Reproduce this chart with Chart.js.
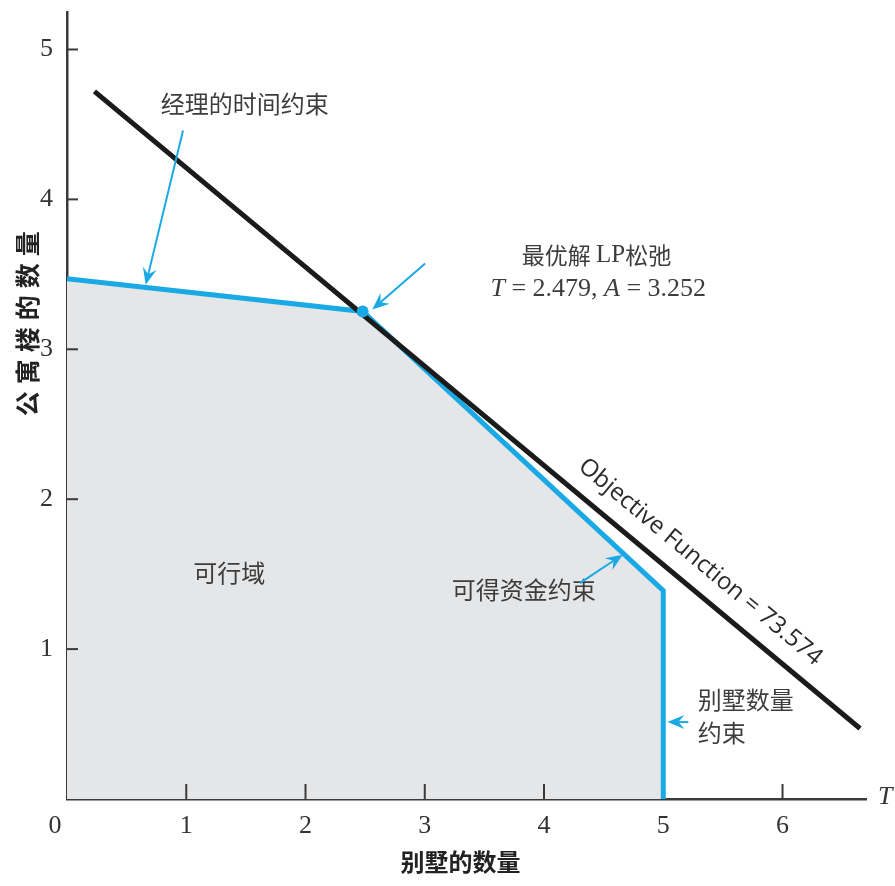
<!DOCTYPE html>
<html><head><meta charset="utf-8">
<script src="https://cdn.jsdelivr.net/npm/chart.js@4/dist/chart.umd.min.js"></script>
<style>html,body{margin:0;padding:0;background:#fff;}#wrap{width:895px;height:886px;}</style>
</head><body><div id="wrap"><canvas id="c" width="895" height="886"></canvas></div>
<script>
// ---- data ----
const regionT = [0, 2.479, 5, 5];          // feasible region upper boundary (villas T)
const regionA = [3.47, 3.252, 1.39, 0];    // apartments A
const objectiveT = [0.23, 6.65];
const objectiveA = [4.72, 0.47];
const optimumT = [2.479];
const optimumA = [3.252];
const xTickValues = [0, 1, 2, 3, 4, 5, 6];
const yTickValues = [1, 2, 3, 4, 5];
const xTickMarks = [1, 2, 3, 4, 6];
const yTickMarks = [1, 2, 3, 4, 5];
const xTitle = '别墅的数量';
const yTitle = '公寓楼的数量';

const BLUE = '#19a9e5';
const INK = '#3a3a3a';
const CJK = '"Noto Sans CJK SC"';
const SERIF = '"Liberation Serif"';

// annotation layout (data-space anchors)
const notes = [
  {text: '经理的时间约束', t: 1.49, a: 4.64},
  {text: '可行域', t: 1.36, a: 1.51},
  {text: '可得资金约束', t: 3.83, a: 1.393},
];
const arrows = [
  {from: [0.973, 4.46], to: [0.66, 3.43]},
  {from: [3.003, 3.573], to: [2.56, 3.265]},
  {from: [4.30, 1.44], to: [4.66, 1.63]},
  {from: [5.21, 0.513], to: [5.035, 0.513]},
];

function arrow(ctx, x1, y1, x2, y2) {
  const a = Math.atan2(y2 - y1, x2 - x1);
  const L = 17, W = 7, N = 6;
  const c = Math.cos(a), s = Math.sin(a);
  ctx.beginPath(); ctx.moveTo(x1, y1); ctx.lineTo(x2 - c * (L - N), y2 - s * (L - N)); ctx.stroke();
  ctx.beginPath();
  ctx.moveTo(x2, y2);
  ctx.lineTo(x2 - L * c + W * s, y2 - L * s - W * c);
  ctx.lineTo(x2 - (L - N) * c, y2 - (L - N) * s);
  ctx.lineTo(x2 - L * c - W * s, y2 - L * s + W * c);
  ctx.closePath(); ctx.fill();
}

function drawRuns(ctx, runs, cx, cy) {
  let total = 0;
  runs.forEach(r => { ctx.font = r.font; r.w = ctx.measureText(r.s).width; total += r.w; });
  let x = cx - total / 2;
  runs.forEach(r => { ctx.font = r.font; ctx.fillText(r.s, x, cy); x += r.w; });
}

const annot = {
  id: 'annot',
  afterDraw(chart) {
    const {ctx, scales: {x, y}, chartArea: ca} = chart;
    const X = v => x.getPixelForValue(v), Y = v => y.getPixelForValue(v);
    ctx.save();
    // inward tick marks
    ctx.strokeStyle = INK; ctx.lineWidth = 2;
    xTickMarks.forEach(v => { ctx.beginPath(); ctx.moveTo(X(v), ca.bottom); ctx.lineTo(X(v), ca.bottom - 15); ctx.stroke(); });
    yTickMarks.forEach(v => { ctx.beginPath(); ctx.moveTo(ca.left, Y(v)); ctx.lineTo(ca.left + 11, Y(v)); ctx.stroke(); });

    // origin label and axis letter
    ctx.fillStyle = '#333';
    ctx.textBaseline = 'middle'; ctx.textAlign = 'center';
    ctx.font = '26px ' + SERIF;
    ctx.fillText('0', X(0) - 12, ca.bottom + 27);
    ctx.font = 'italic 26px ' + SERIF;
    ctx.textAlign = 'left';
    ctx.fillText('T', ca.right + 12, ca.bottom - 2);

    // axis titles
    ctx.fillStyle = '#222';
    ctx.font = 'bold 24px ' + CJK;
    ctx.textAlign = 'center';
    ctx.fillText(xTitle, X(3.3), ca.bottom + 63);
    ctx.save();
    ctx.translate(27, Y(3.17));
    ctx.rotate(-Math.PI / 2);
    ctx.font = 'bold 25px ' + CJK;
    const pitch = 32;
    const chars = [...yTitle];
    chars.forEach((ch, i) => ctx.fillText(ch, (i - (chars.length - 1) / 2) * pitch, 0));
    ctx.restore();

    // notes
    ctx.fillStyle = '#3d3d3d';
    ctx.font = '24px ' + CJK;
    ctx.textAlign = 'center';
    notes.forEach(n => ctx.fillText(n.text, X(n.t), Y(n.a)));
    ctx.textAlign = 'left';
    ctx.fillText('别墅数量', X(5.29), Y(0.66));
    ctx.fillText('约束', X(5.29), Y(0.44));

    // optimum label
    ctx.textAlign = 'left';
    drawRuns(ctx, [
      {s: '最优解 ', font: '23px ' + CJK},
      {s: 'LP', font: '25px ' + SERIF},
      {s: '松弛', font: '23px ' + CJK},
    ], X(4.44), Y(3.627));
    drawRuns(ctx, [
      {s: 'T', font: 'italic 26px ' + SERIF},
      {s: ' = 2.479, ', font: '26px ' + SERIF},
      {s: 'A', font: 'italic 26px ' + SERIF},
      {s: ' = 3.252', font: '26px ' + SERIF},
    ], X(4.455), Y(3.40));

    // objective function label along the line
    const ang = Math.atan2(Y(objectiveA[1]) - Y(objectiveA[0]), X(objectiveT[1]) - X(objectiveT[0]));
    ctx.save();
    ctx.translate(X(5.31), Y(1.58));
    ctx.rotate(ang);
    ctx.font = '24px "Open Sans"';
    ctx.fillStyle = '#2a2a2a';
    ctx.textAlign = 'center';
    ctx.fillText('Objective Function = 73.574', 0, 0);
    ctx.restore();

    // arrows
    ctx.strokeStyle = BLUE; ctx.fillStyle = BLUE; ctx.lineWidth = 2;
    arrows.forEach(a => arrow(ctx, X(a.from[0]), Y(a.from[1]), X(a.to[0]), Y(a.to[1])));
    ctx.restore();
  }
};

const tickFont = {family: 'Liberation Serif', size: 26};

new Chart(document.getElementById('c'), {
  type: 'scatter',
  data: {
    datasets: [
      {
        label: 'optimum',
        data: optimumT.map((t, i) => ({x: t, y: optimumA[i]})),
        showLine: false, pointRadius: 6, pointBackgroundColor: BLUE, pointBorderWidth: 0, order: 0
      },
      {
        label: 'objective',
        data: objectiveT.map((t, i) => ({x: t, y: objectiveA[i]})),
        showLine: true, borderColor: '#1b1b1b', borderWidth: 5, pointRadius: 0,
        borderCapStyle: 'butt', fill: false, order: 1
      },
      {
        label: 'region',
        data: regionT.map((t, i) => ({x: t, y: regionA[i]})),
        showLine: true, borderColor: BLUE, borderWidth: 5, pointRadius: 0,
        backgroundColor: '#e5e6e8', fill: 'origin', borderJoinStyle: 'miter', order: 3
      }
    ]
  },
  options: {
    responsive: false,
    animation: false,
    layout: {padding: {top: 12, right: 29, left: 0, bottom: 0}},
    plugins: {legend: {display: false}, tooltip: {enabled: false}},
    scales: {
      x: {
        type: 'linear', min: 0, max: 6.7,
        afterFit(s) { s.height = 87; s.paddingLeft = 0; s.paddingRight = 0; },
        grid: {display: false, drawTicks: false},
        border: {display: true, color: INK, width: 2.5},
        afterBuildTicks(s) { s.ticks = xTickValues.map(v => ({value: v})); },
        ticks: {font: tickFont, color: '#333', padding: 12, includeBounds: false,
          callback: v => (v === 0 ? '' : String(v))}
      },
      y: {
        type: 'linear', min: 0, max: 5.25,
        afterFit(s) { s.width = 67; s.paddingTop = 0; s.paddingBottom = 0; },
        grid: {display: false, drawTicks: false},
        border: {display: true, color: INK, width: 2.5},
        afterBuildTicks(s) { s.ticks = yTickValues.map(v => ({value: v})); },
        ticks: {font: tickFont, color: '#333', padding: 14, includeBounds: false}
      }
    }
  },
  plugins: [annot]
});
</script>
</body></html>
